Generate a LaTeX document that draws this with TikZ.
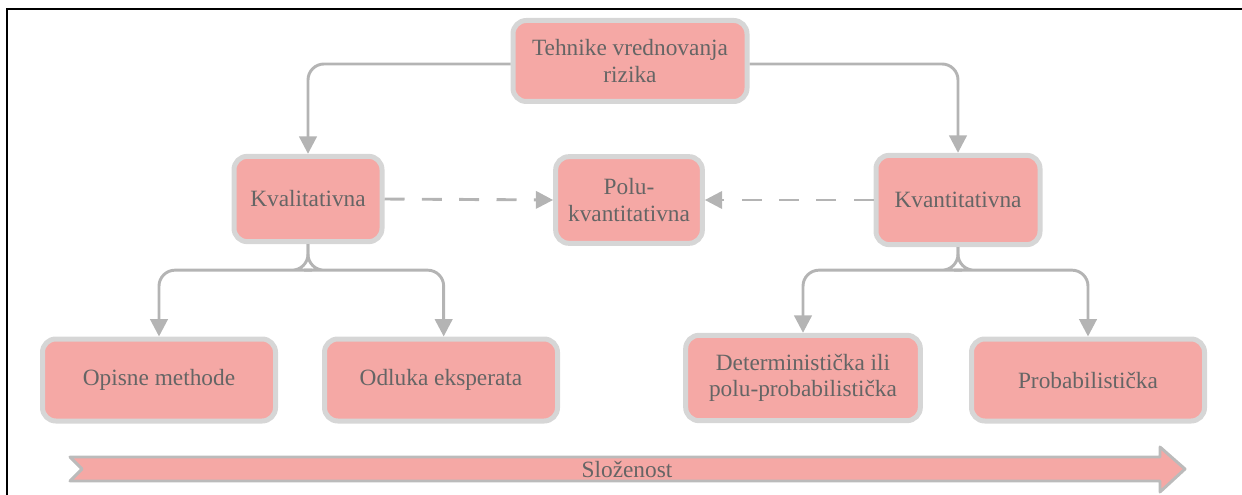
\documentclass[tikz,border=0pt]{standalone}
\usepackage{fontspec}
\setmainfont{Liberation Serif}
\newfontfamily\labelface{Liberation Serif}
\usetikzlibrary{arrows.meta,calc}
\definecolor{boxfill}{HTML}{F5A8A5}
\definecolor{boxline}{HTML}{D6D6D6}
\definecolor{boxtext}{HTML}{656565}
\definecolor{linkgray}{HTML}{B4B4B4}
\definecolor{bandline}{HTML}{BBBBBB}
\tikzset{
  box/.style={draw=boxline, fill=boxfill, line width=3.75pt, rounded corners=10pt,
    text=boxtext, font=\labelface\fontsize{17.5}{20}\selectfont, align=center, inner sep=2pt},
  link/.style={draw=linkgray, line width=2.2pt, rounded corners=12pt,
    -{Triangle[length=13pt,width=13pt]}},
  dlink/.style={draw=linkgray, line width=2.2pt, dash pattern=on 15pt off 13pt,
    -{Triangle[length=13pt,width=13pt]}},
}
\begin{document}
\begin{tikzpicture}[x=0.75pt,y=-0.75pt]
\useasboundingbox (0,0) rectangle (1242,495);
% outer frame
\draw[line width=1.9pt] (7,500) -- (7,9) -- (1250,9);

% boxes
\node[box, minimum width=175.5pt, minimum height=60.75pt] (top) at (630,61) {Tehnike vrednovanja\\rizika};
\node[box, minimum width=111pt, minimum height=64pt] (kval) at (308,199) {Kvalitativna};
\node[box, minimum width=110pt, minimum height=65pt] (polu) at (629,200) {Polu-\\kvantitativna};
\node[box, minimum width=123pt, minimum height=67pt] (kvant) at (958,200) {Kvantitativna};
\node[box, minimum width=174.75pt, minimum height=61.5pt] (opis) at (159,380) {Opisne methode};
\node[box, minimum width=174.75pt, minimum height=61.5pt] (odl) at (441,380) {Odluka eksperata};
\node[box, minimum width=176pt, minimum height=64pt] (det) at (803,378) {Deterministička ili\\polu-probabilistička};
\node[box, minimum width=174.75pt, minimum height=61.5pt] (prob) at (1088,380) {Probabilistička};

% tree connectors
\draw[link] (top.west) ++(0,3) -| (kval.north);
\draw[link] (top.east) ++(0,3) -| (kvant.north);
\coordinate (kvalfork) at ($(kval.south)+(0,26)$);
\coordinate (kvantfork) at ($(kvant.south)+(0,23)$);
\draw[link] (kval.south) |- ($(kvalfork)+(-12,0)$) -| (opis.north);
\draw[link] (kval.south) |- ($(kvalfork)+(12,0)$) -| ([xshift=2pt]odl.north);
\draw[link] (kvant.south) |- ($(kvantfork)+(-12,0)$) -| (det.north);
\draw[link] (kvant.south) |- ($(kvantfork)+(12,0)$) -| (prob.north);

% dashed links to the middle box
\draw[dlink] (kval.east) -- (polu.west);
\draw[dlink] (kvant.west) -- (polu.east);

% complexity band
\draw[draw=bandline, fill=boxfill, line width=2.2pt, line join=round]
  (70,457) -- (1160,457) -- (1160,447) -- (1185,469) -- (1160,492) -- (1160,481)
  -- (70,481) -- (82,469) -- cycle;
\node[text=boxtext, font=\labelface\fontsize{17.5}{20}\selectfont, inner sep=0pt] (band) at (627,469) {Složenost};
\end{tikzpicture}
\end{document}
